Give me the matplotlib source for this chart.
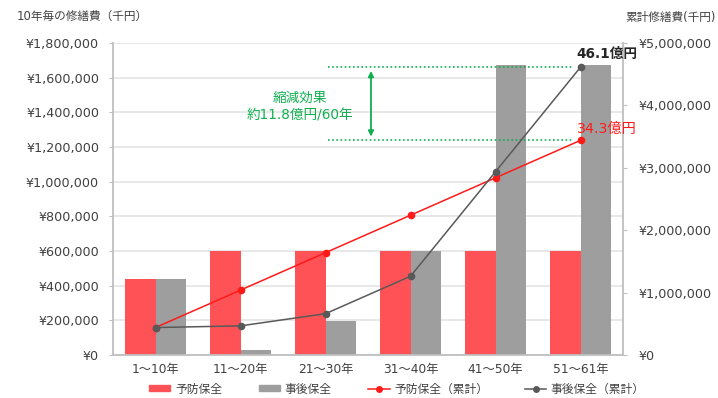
import matplotlib
matplotlib.use("Agg")
import matplotlib.pyplot as plt
from matplotlib.patches import Patch
from matplotlib.lines import Line2D
import numpy as np

plt.rcParams['font.family'] = ['DejaVu Sans', 'Noto Sans CJK JP']

categories = ["1～10年", "11～20年", "21～30年", "31～40年", "41～50年", "51～61年"]
preventive = [440000, 600000, 600000, 600000, 600000, 600000]
corrective = [440000, 27000, 195000, 600000, 1675000, 1675000]
preventive_cum = [440000, 1040000, 1640000, 2240000, 2840000, 3440000]
corrective_cum = [440000, 467000, 662000, 1262000, 2937000, 4612000]
left_ticks = [0, 200000, 400000, 600000, 800000, 1000000, 1200000, 1400000, 1600000, 1800000]
right_ticks = [0, 1000000, 2000000, 3000000, 4000000, 5000000]

RED_BAR = "#FF5257"
GRAY_BAR = "#9E9E9E"
RED_LINE = "#FF1A1A"
GRAY_LINE = "#595959"
GREEN = "#10B050"
TXT = "#404040"
SPINE = "#BFBFBF"

fig = plt.figure(figsize=(7.18, 3.98), dpi=100)
ax = fig.add_axes([113/718, 1-355/398, (623-113)/718, (355-43)/398])
ax2 = ax.twinx()

x = np.arange(len(categories))
w = 0.353
ax.bar(x - w/2, preventive, width=w, color=RED_BAR, zorder=2)
ax.bar(x + w/2, corrective, width=w, color=GRAY_BAR, zorder=2)
ax.set_xlim(-0.5, len(categories) - 0.5)
ax.set_ylim(0, 1800000)
ax.set_yticks(left_ticks)
ax.set_yticklabels([f"¥{v:,}" for v in left_ticks], color=TXT, fontsize=9.2)
ax.set_xticks(x)
ax.set_xticklabels(categories, color=TXT, fontsize=8.8)
ax.tick_params(axis='x', length=0, pad=6)
ax.tick_params(axis='y', length=3, color=SPINE, pad=7)
ax.grid(axis='y', color="#E6E6E6", linewidth=1.3, zorder=0)
ax.set_axisbelow(True)
for s in ['top', 'right']:
    ax.spines[s].set_visible(False)
for s in ['left', 'bottom']:
    ax.spines[s].set_color(SPINE)
    ax.spines[s].set_linewidth(1.3)

ax2.plot(x, preventive_cum, color=RED_LINE, marker='o', markersize=4.5, linewidth=1.1, zorder=5)
ax2.plot(x, corrective_cum, color=GRAY_LINE, marker='o', markersize=4.5, linewidth=1.1, zorder=5)
ax2.set_ylim(0, 5000000)
ax2.set_yticks(right_ticks)
ax2.set_yticklabels([f"¥{v:,}" for v in right_ticks], color=TXT, fontsize=9.2)
ax2.tick_params(axis='y', length=3, color=SPINE, pad=8)
for s in ['top', 'left', 'bottom']:
    ax2.spines[s].set_visible(False)
ax2.spines['right'].set_color(SPINE)
ax2.spines['right'].set_linewidth(1.3)

# Reduction annotation
ax2.hlines([corrective_cum[-1], preventive_cum[-1]], 2.03, 4.90, colors=GREEN,
           linestyles=(0, (1, 1.5)), linewidth=1.2, zorder=4)
ax2.annotate("", xy=(2.535, corrective_cum[-1] - 60000), xytext=(2.535, preventive_cum[-1] + 60000),
             arrowprops=dict(arrowstyle='<|-|>', color=GREEN, lw=1.3, mutation_scale=8,
                             shrinkA=0, shrinkB=0))
ax2.text(1.70, 3980000, "縮減効果\n約11.8億円/60年", color=GREEN, fontsize=9.8,
         ha='center', va='center', linespacing=1.3)
ax2.text(5.31, 4820000, "46.1億円", color="#262626", fontsize=9.8, fontweight='bold',
         ha='center', va='center')
ax2.text(5.31, 3630000, "34.3億円", color=RED_LINE, fontsize=10.2,
         ha='center', va='center')

fig.text(17/718, 1-16/398, "10年毎の修繕費（千円）", color=TXT, fontsize=8.4, ha='left', va='center')
fig.text(625/718, 1-18/398, "累計修繕費(千円)", color=TXT, fontsize=8.4, ha='left', va='center')

handles = [
    Patch(color=RED_BAR, label="予防保全"),
    Patch(color=GRAY_BAR, label="事後保全"),
    Line2D([0], [0], color=RED_LINE, marker='o', markersize=4, lw=1.1, label="予防保全（累計）"),
    Line2D([0], [0], color=GRAY_LINE, marker='o', markersize=4, lw=1.1, label="事後保全（累計）"),
]
fig.legend(handles=handles, loc='center', bbox_to_anchor=(0.553, 1-389/398), ncol=4,
           frameon=False, fontsize=8.5, handlelength=1.8, handleheight=0.45,
           columnspacing=3.1, handletextpad=0.4, labelcolor=TXT)

fig.savefig("out.png", dpi=100)
